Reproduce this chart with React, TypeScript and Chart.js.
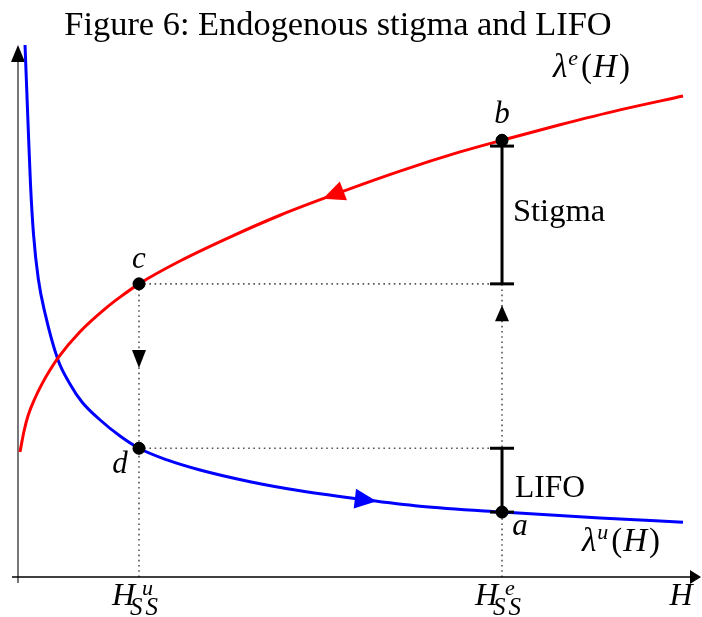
import React, { useEffect, useRef } from "react";
import { Chart, registerables } from "chart.js";

Chart.register(...registerables);

// λ^e(H) curve (red)
const redX = [0.29, 0.88, 1.47, 2.49, 3.52, 4.69, 5.87, 9.09, 12.76, 14.96, 17.74, 23.75, 31.09, 38.42, 45.75, 56.01, 64.81, 70.97, 79.47, 88.27, 97.51];
const redY = [23.5, 27.4, 30.3, 33.6, 36.3, 38.9, 41.2, 46.1, 50.4, 52.6, 55.1, 59.4, 63.9, 68.0, 71.6, 76.3, 79.9, 82.1, 85.0, 87.8, 90.4];
// λ^u(H) curve (blue)
const blueX = [1.03, 1.51, 1.83, 2.27, 2.98, 3.96, 5.87, 7.62, 9.38, 11.88, 14.96, 17.74, 21.85, 26.69, 34.02, 41.35, 50.88, 58.94, 70.97, 85.34, 97.51];
const blueY = [100.0, 84.0, 73.9, 64.5, 56.0, 49.6, 40.8, 36.3, 32.9, 29.7, 26.5, 24.2, 22.0, 20.1, 17.9, 16.2, 14.5, 13.3, 12.2, 11.1, 10.3];
// labelled points a, b, c, d
const pointLabels = ["a", "b", "c", "d"];
const pointX = [70.97, 70.97, 17.74, 17.74];
const pointY = [12.2, 82.1, 55.1, 24.2];
// key values
const H_u = 17.74;
const H_e = 70.97;
const stigmaTop = 81.0;
const redArrowX = 44.7;
const blueArrowX = 52.6;
const downArrowY = 39.3;
const upArrowY = 51.1;

const SERIF = '"Liberation Serif", "DejaVu Serif", serif';

type Run = { t: string; f: string; dy?: number; dx?: number };

function runsWidth(ctx: CanvasRenderingContext2D, runs: Run[]) {
  let w = 0;
  for (const r of runs) {
    ctx.font = r.f;
    w += ctx.measureText(r.t).width + (r.dx || 0);
  }
  return w;
}
function drawRuns(ctx: CanvasRenderingContext2D, x: number, y: number, runs: Run[], align: "left" | "center") {
  const w = runsWidth(ctx, runs);
  let cx = align === "center" ? x - w / 2 : x;
  ctx.textAlign = "left";
  ctx.textBaseline = "alphabetic";
  for (const r of runs) {
    ctx.font = r.f;
    ctx.fillText(r.t, cx, y + (r.dy || 0));
    cx += ctx.measureText(r.t).width + (r.dx || 0);
  }
}

function tri(ctx: CanvasRenderingContext2D, tx: number, ty: number, ang: number, len: number, hw: number, color: string) {
  const bx = tx - Math.cos(ang) * len;
  const by = ty - Math.sin(ang) * len;
  const px = -Math.sin(ang) * hw;
  const py = Math.cos(ang) * hw;
  ctx.fillStyle = color;
  ctx.beginPath();
  ctx.moveTo(tx, ty);
  ctx.lineTo(bx + px, by + py);
  ctx.lineTo(bx - px, by - py);
  ctx.closePath();
  ctx.fill();
}

function seg(ctx: CanvasRenderingContext2D, x1: number, y1: number, x2: number, y2: number) {
  ctx.beginPath();
  ctx.moveTo(x1, y1);
  ctx.lineTo(x2, y2);
  ctx.stroke();
}

function curvePos(chart: any, dsIndex: number, px: number) {
  const pts = chart.getDatasetMeta(dsIndex).data as any[];
  for (let i = 0; i < pts.length - 1; i++) {
    const p0 = pts[i], p1 = pts[i + 1];
    if (px >= p0.x && px <= p1.x) {
      const t = (px - p0.x) / (p1.x - p0.x);
      return { x: px, y: p0.y + t * (p1.y - p0.y), ang: Math.atan2(p1.y - p0.y, p1.x - p0.x) };
    }
  }
  return { x: px, y: pts[0].y, ang: 0 };
}

const overlay = {
  id: "overlay",
  beforeDatasetsDraw(chart: any) {
    const ctx: CanvasRenderingContext2D = chart.ctx;
    const X = (v: number) => chart.scales.x.getPixelForValue(v);
    const Y = (v: number) => chart.scales.y.getPixelForValue(v);
    ctx.save();
    // dotted guides
    ctx.strokeStyle = "#555";
    ctx.lineWidth = 1.6;
    ctx.setLineDash([1.6, 3.6]);
    seg(ctx, X(H_u), Y(0), X(H_u), Y(pointY[2]));
    seg(ctx, X(H_u), Y(pointY[2]), X(H_e), Y(pointY[2]));
    seg(ctx, X(H_u), Y(pointY[3]), X(H_e), Y(pointY[3]));
    seg(ctx, X(H_e), Y(0), X(H_e), Y(pointY[2]));
    ctx.setLineDash([]);
    // y axis
    ctx.strokeStyle = "#777";
    ctx.lineWidth = 2;
    seg(ctx, X(0), Y(0) + 6, X(0), Y(100) + 14);
    tri(ctx, X(0), Y(100), -Math.PI / 2, 17, 7, "#000");
    // x axis
    ctx.strokeStyle = "#000";
    ctx.lineWidth = 1.5;
    seg(ctx, X(0) - 6, Y(0), X(100) - 6, Y(0));
    tri(ctx, X(100) + 1, Y(0), 0, 11, 7, "#000");
    // arrows on guides
    tri(ctx, X(H_u), Y(downArrowY), Math.PI / 2, 18, 7, "#000");
    tri(ctx, X(H_e), Y(upArrowY), -Math.PI / 2, 16, 7, "#000");
    ctx.restore();
  },
  afterDatasetsDraw(chart: any) {
    const ctx: CanvasRenderingContext2D = chart.ctx;
    const X = (v: number) => chart.scales.x.getPixelForValue(v);
    const Y = (v: number) => chart.scales.y.getPixelForValue(v);
    ctx.save();
    // curve arrows
    const r = curvePos(chart, 0, X(redArrowX));
    tri(ctx, r.x, r.y, r.ang + Math.PI, 22, 10, "#ff0000");
    const b = curvePos(chart, 1, X(blueArrowX));
    tri(ctx, b.x, b.y, b.ang, 22, 10, "#0000ff");
    // Stigma and LIFO bars
    ctx.strokeStyle = "#000";
    ctx.lineWidth = 3;
    const xe = X(H_e);
    seg(ctx, xe, Y(stigmaTop), xe, Y(pointY[2]));
    seg(ctx, xe - 12, Y(stigmaTop), xe + 12, Y(stigmaTop));
    seg(ctx, xe - 12, Y(pointY[2]), xe + 12, Y(pointY[2]));
    seg(ctx, xe, Y(pointY[3]), xe, Y(pointY[0]));
    seg(ctx, xe - 12, Y(pointY[3]), xe + 12, Y(pointY[3]));
    seg(ctx, xe - 12, Y(pointY[0]), xe + 12, Y(pointY[0]));
    // points on top
    ctx.fillStyle = "#000";
    for (let i = 0; i < pointX.length; i++) {
      ctx.beginPath();
      ctx.arc(X(pointX[i]), Y(pointY[i]), 6, 0, Math.PI * 2);
      ctx.fill();
    }
    // texts
    ctx.fillStyle = "#000";
    const it = `italic 31px ${SERIF}`;
    const itL = `italic 33px ${SERIF}`;
    const itS = `italic 22px ${SERIF}`;
    const rmL = `33px ${SERIF}`;
    drawRuns(ctx, 338, 35, [{ t: "Figure 6: Endogenous stigma and LIFO", f: `34.4px ${SERIF}` }], "center");
    drawRuns(ctx, 513, 221, [{ t: "Stigma", f: `32.5px ${SERIF}` }], "left");
    drawRuns(ctx, 515, 497, [{ t: "LIFO", f: `31.5px ${SERIF}` }], "left");
    // point letters
    const offs: Record<string, [number, number]> = { a: [18, 23], b: [0, -17], c: [0, -16], d: [-19, 25] };
    for (let i = 0; i < pointLabels.length; i++) {
      const o = offs[pointLabels[i]];
      drawRuns(ctx, X(pointX[i]) + o[0], Y(pointY[i]) + o[1], [{ t: pointLabels[i], f: it }], "center");
    }
    // lambda labels
    const lam = (x0: number, y0: number, sup: string) =>
      drawRuns(ctx, x0, y0, [
        { t: "λ", f: itL, dx: 1 }, { t: sup, f: itS, dy: -12, dx: 3 }, { t: "(", f: rmL, dx: 1 }, { t: "H", f: itL, dx: 2 }, { t: ")", f: rmL },
      ], "left");
    lam(553, 77, "e");
    lam(582, 551, "u");
    // H_SS labels
    const hss = (cx: number, sup: string) => {
      ctx.font = `italic 32px ${SERIF}`;
      drawRuns(ctx, cx - 27, 605, [{ t: "H", f: `italic 32px ${SERIF}` }], "left");
      drawRuns(ctx, cx + 3, 595, [{ t: sup, f: itS }], "left");
      drawRuns(ctx, cx - 9, 615, [{ t: "S", f: `italic 25px ${SERIF}`, dx: 3 }, { t: "S", f: `italic 25px ${SERIF}` }], "left");
    };
    hss(X(H_u), "u");
    hss(X(H_e), "e");
    drawRuns(ctx, 681, 605, [{ t: "H", f: `italic 32px ${SERIF}` }], "center");
    ctx.restore();
  },
};

export default function App() {
  const ref = useRef<HTMLCanvasElement>(null);
  useEffect(() => {
    document.body.style.margin = "0";
    const canvas = ref.current!;
    const chart = new Chart(canvas, {
      type: "line",
      data: {
        datasets: [
          {
            data: redX.map((x, i) => ({ x, y: redY[i] })),
            borderColor: "#ff0000",
            borderWidth: 3,
            pointRadius: 0,
            cubicInterpolationMode: "monotone",
            clip: false as any,
            order: 2,
          },
          {
            data: blueX.map((x, i) => ({ x, y: blueY[i] })),
            borderColor: "#0000ff",
            borderWidth: 3,
            pointRadius: 0,
            cubicInterpolationMode: "monotone",
            clip: false as any,
            order: 2,
          },
          {
            data: pointX.map((x, i) => ({ x, y: pointY[i] })),
            showLine: false,
            pointRadius: 6,
            pointBackgroundColor: "#000",
            borderColor: "#000",
            clip: false as any,
            order: 1,
          },
        ],
      },
      options: {
        responsive: false,
        animation: false,
        devicePixelRatio: 1,
        layout: { autoPadding: false, padding: { left: 18, right: 2, top: 45, bottom: 40 } },
        scales: {
          x: { type: "linear", min: 0, max: 100, display: false },
          y: { type: "linear", min: 0, max: 100, display: false },
        },
        plugins: { legend: { display: false }, tooltip: { enabled: false }, title: { display: false } },
      },
      plugins: [overlay],
    } as any);
    return () => chart.destroy();
  }, []);
  return (
    <div style={{ width: 702, height: 617 }}>
      <canvas ref={ref} width={702} height={617} style={{ display: "block" }} />
    </div>
  );
}
